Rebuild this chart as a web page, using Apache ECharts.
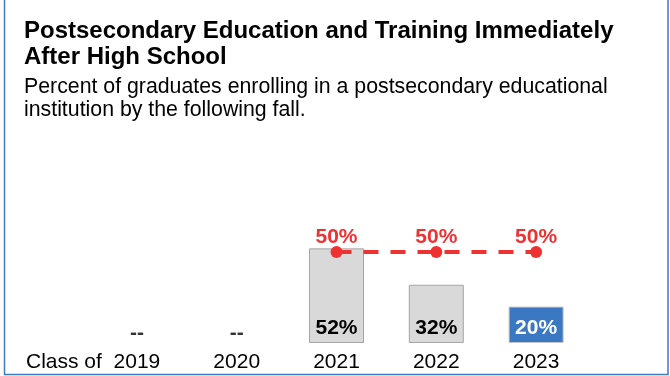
<!DOCTYPE html>
<html>
<head>
<meta charset="utf-8">
<script src="https://cdn.jsdelivr.net/npm/echarts@6/dist/echarts.min.js"></script>
<style>
html,body{margin:0;padding:0;background:#fff;}
#c{width:670px;height:376px;}
</style>
</head>
<body>
<div id="c"></div>
<script>
const categories = ['2019', '2020', '2021', '2022', '2023'];
const barValues = [null, null, 52, 32, 20];
const goalValues = [null, null, 50, 50, 50];
const noDataValues = [0, 0, null, null, null];
const highlightIndex = 4;

const FONT = '"Liberation Sans", Arial, sans-serif';
const chart = echarts.init(document.getElementById('c'));

chart.setOption({
  animation: false,
  textStyle: { fontFamily: FONT },
  title: [
    {
      text: 'Postsecondary Education and Training Immediately\nAfter High School',
      left: 24, top: 18, padding: 0,
      textStyle: { fontFamily: FONT, fontSize: 24, fontWeight: 'bold', color: '#000', lineHeight: 26 }
    },
    {
      text: 'Percent of graduates enrolling in a postsecondary educational\ninstitution by the following fall.',
      left: 24, top: 76, padding: 0,
      textStyle: { fontFamily: FONT, fontSize: 21.3, fontWeight: 'normal', color: '#000', lineHeight: 23 }
    }
  ],
  graphic: [
    {
      type: 'rect', silent: true,
      shape: { x: 4.5, y: -5, width: 663.5, height: 379.5 },
      style: { fill: 'none', stroke: '#3f7cc4', lineWidth: 1.5 }
    },
    {
      type: 'text', left: 26, top: 352,
      style: { text: 'Class of', fontFamily: FONT, fontSize: 21, fill: '#000' }
    }
  ],
  grid: { left: 87, right: 84, top: 161, bottom: 33 },
  xAxis: {
    type: 'category',
    data: categories,
    axisLine: { show: false },
    axisTick: { show: false },
    axisLabel: { color: '#000', fontSize: 21, fontFamily: FONT, margin: 9 }
  },
  yAxis: {
    type: 'value', min: 0, max: 100,
    show: false,
    splitLine: { show: false }
  },
  series: [
    {
      type: 'bar',
      data: barValues.map((v, i) => ({
        value: v,
        itemStyle: i === highlightIndex
          ? { color: '#3a78c3', borderColor: '#c3c3c3', borderWidth: 1 }
          : { color: '#d9d9d9', borderColor: '#a6a6a6', borderWidth: 1 },
        label: { color: i === highlightIndex ? '#fff' : '#000' }
      })),
      barWidth: 55,
      label: {
        show: true, position: 'insideBottom', distance: 4,
        formatter: p => p.value + '%',
        fontSize: 21, fontWeight: 'bold', fontFamily: FONT
      },
      z: 1
    },
    {
      type: 'scatter',
      data: noDataValues,
      symbolSize: 0,
      label: {
        show: true, position: 'top', distance: -1,
        formatter: '--', color: '#000',
        fontSize: 21, fontWeight: 'bold', fontFamily: FONT
      }
    },
    {
      type: 'line',
      data: goalValues,
      symbol: 'circle', symbolSize: 12,
      itemStyle: { color: '#ee3131' },
      lineStyle: { color: '#ee3131', width: 4, type: [15, 12] },
      label: {
        show: true, position: 'top', distance: -2,
        formatter: p => p.value + '%',
        color: '#ee3131', fontSize: 21, fontWeight: 'bold', fontFamily: FONT
      },
      z: 3
    }
  ]
});
</script>
</body>
</html>
